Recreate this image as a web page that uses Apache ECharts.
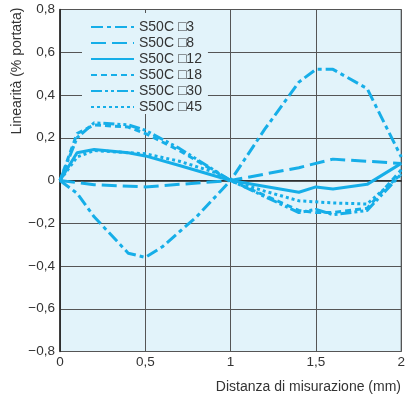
<!DOCTYPE html>
<html>
<head>
<meta charset="utf-8">
<script src="https://cdn.jsdelivr.net/npm/echarts@6/dist/echarts.min.js"></script>
<style>
  html, body { margin: 0; padding: 0; background: #ffffff; }
  #chart { width: 408px; height: 401px; }
</style>
</head>
<body>
<div id="chart"></div>
<script>
// Linearity error (% of range) versus measuring distance for the S50C sensor heads
const names = ['S50C \u25A13', 'S50C \u25A18', 'S50C \u25A112', 'S50C \u25A118', 'S50C \u25A130', 'S50C \u25A145'];

const x3  = [0, 0.1, 0.2, 0.4, 0.5, 0.6, 0.8, 1, 1.2, 1.4, 1.5, 1.6, 1.8, 2];
const y3  = [0, -0.06, -0.17, -0.34, -0.36, -0.31, -0.17, 0, 0.24, 0.46, 0.52, 0.52, 0.43, 0.11];

const x8  = [0, 0.2, 0.5, 1, 1.4, 1.6, 2];
const y8  = [0, -0.02, -0.03, 0, 0.06, 0.1, 0.08];

const x12 = [0, 0.1, 0.2, 0.4, 0.5, 0.7, 1, 1.4, 1.5, 1.6, 1.8, 2];
const y12 = [0, 0.13, 0.145, 0.13, 0.115, 0.07, 0, -0.055, -0.03, -0.04, -0.018, 0.08];

const x18 = [0, 0.1, 0.2, 0.4, 0.5, 0.7, 1, 1.4, 1.5, 1.6, 1.8, 2];
const y18 = [0, 0.22, 0.26, 0.25, 0.22, 0.14, 0, -0.14, -0.15, -0.15, -0.13, 0.05];

const x30 = [0, 0.1, 0.2, 0.4, 0.5, 0.7, 1, 1.4, 1.5, 1.6, 1.8, 2];
const y30 = [0, 0.2, 0.27, 0.26, 0.235, 0.15, 0, -0.15, -0.135, -0.16, -0.14, 0.03];

const x45 = [0, 0.1, 0.2, 0.5, 0.7, 0.9, 1, 1.2, 1.4, 1.6, 1.8, 2];
const y45 = [0, 0.11, 0.14, 0.125, 0.09, 0.04, 0, -0.05, -0.095, -0.105, -0.11, 0.03];

const LINE = '#16aee8';
const PLOT_BG = '#e2f3fa';
const FONT = '"Liberation Sans", Arial, "DejaVu Sans", sans-serif';

function zip(xs, ys) { return xs.map((x, i) => [x, ys[i]]); }

// decimal comma and a true minus sign on the tick labels
function fmt(v) {
  if (Math.abs(v) < 1e-9) return '0';
  const s = (Math.round(v * 10) / 10).toString().replace('.', ',');
  return s.replace('-', '\u2212');
}

const dashes = [
  [12, 4, 4, 4],          // dash-dot
  [15, 6],                // long dash
  'solid',
  [6, 4],                 // short dash
  [11, 3, 3, 3, 3, 3],    // dash-dot-dot
  [3, 3]                  // dotted
];
const dataSets = [zip(x3, y3), zip(x8, y8), zip(x12, y12), zip(x18, y18), zip(x30, y30), zip(x45, y45)];

const chart = echarts.init(document.getElementById('chart'), null, { renderer: 'canvas' });
chart.setOption({
  animation: false,
  backgroundColor: '#ffffff',
  textStyle: { fontFamily: FONT },
  grid: {
    left: 60, right: 3, top: 9.5, bottom: 49.5,
    show: true, backgroundColor: PLOT_BG, borderColor: '#333', borderWidth: 1
  },
  legend: {
    orient: 'vertical',
    left: 82, top: 13,
    padding: [7, 6, 0, 8],
    backgroundColor: PLOT_BG,
    itemWidth: 43, itemHeight: 14, itemGap: 2,
    itemStyle: { opacity: 0 },
    textStyle: { fontSize: 14, lineHeight: 14, color: '#333', fontFamily: FONT },
    data: names
  },
  xAxis: {
    type: 'value', min: 0, max: 2, interval: 0.5,
    axisLine: { show: true, lineStyle: { color: '#222', width: 1.5 } },
    axisTick: { show: false },
    axisLabel: { formatter: fmt, color: '#333', fontSize: 13.5, margin: 4, fontFamily: FONT },
    splitLine: { show: true, lineStyle: { color: '#555', width: 1 } }
  },
  yAxis: {
    type: 'value', min: -0.8, max: 0.8, interval: 0.2,
    axisLine: { show: true, onZero: false, lineStyle: { color: '#222', width: 1.5 } },
    axisTick: { show: false },
    axisLabel: { formatter: fmt, color: '#333', fontSize: 13.5, margin: 5, fontFamily: FONT },
    splitLine: { show: true, lineStyle: { color: '#555', width: 1 } }
  },
  graphic: [
    {
      type: 'text', x: 17, y: 71, rotation: Math.PI / 2,
      style: { text: 'Linearità (% portata)', align: 'center', verticalAlign: 'middle',
               fill: '#333', font: '14px ' + FONT }
    },
    {
      type: 'text', x: 401, y: 387,
      style: { text: 'Distanza di misurazione (mm)', align: 'right', verticalAlign: 'middle',
               fill: '#333', font: '14px ' + FONT }
    }
  ],
  series: names.map((n, i) => ({
    name: n,
    type: 'line',
    data: dataSets[i],
    symbol: 'none',
    z: 3,
    lineStyle: { color: LINE, width: 3, type: dashes[i] },
    itemStyle: { color: LINE }
  }))
});
</script>
</body>
</html>
